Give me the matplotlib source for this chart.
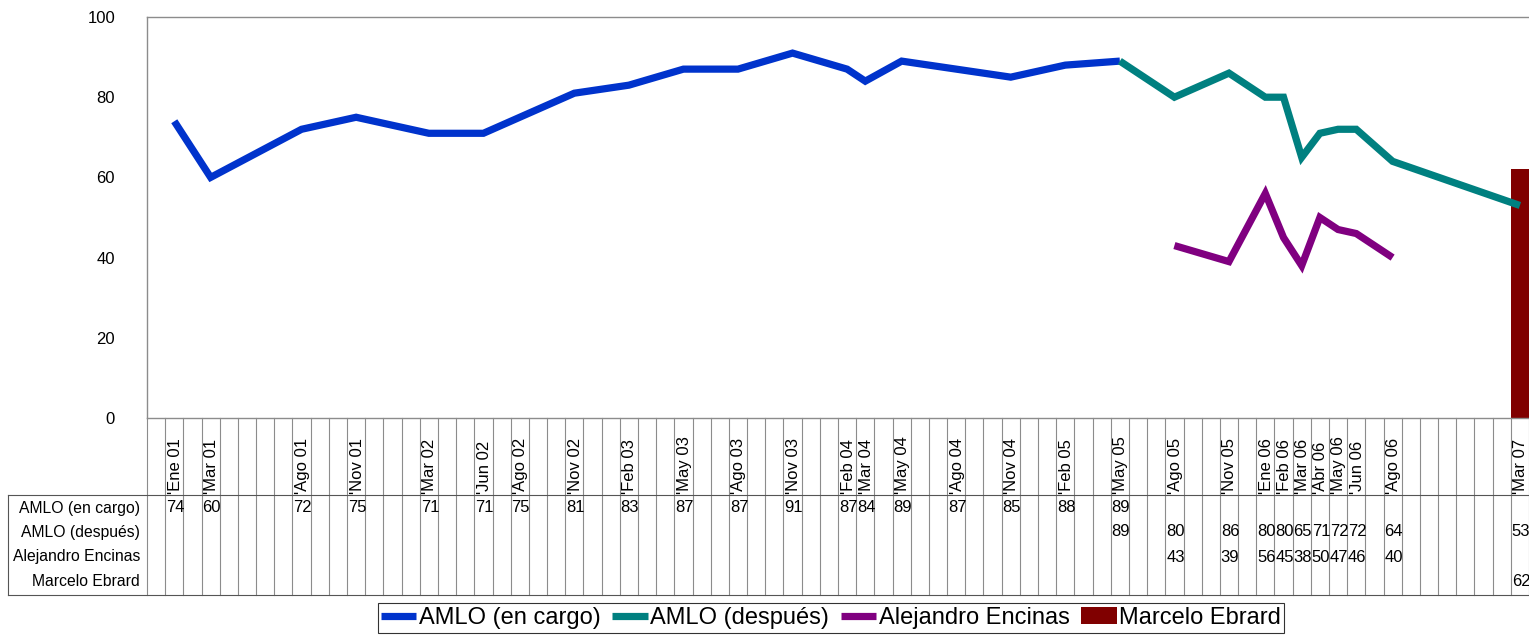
import numpy as np
import matplotlib
matplotlib.use("Agg")
import matplotlib.pyplot as plt
import matplotlib.transforms as mtransforms
from matplotlib.lines import Line2D

plt.rcParams['font.family'] = ['Liberation Sans', 'DejaVu Sans']

# Meses del eje (Dic 00 a Mar 07, una columna por mes)
nombres_mes = ["Ene", "Feb", "Mar", "Abr", "May", "Jun",
               "Jul", "Ago", "Sep", "Oct", "Nov", "Dic"]
meses = ["Dic 00"] + [f"{m} {a:02d}" for a in range(1, 8) for m in nombres_mes][:75]

# Series (mes, valor)
amlo_cargo_meses = ["Ene 01", "Mar 01", "Ago 01", "Nov 01", "Mar 02", "Jun 02", "Ago 02",
                    "Nov 02", "Feb 03", "May 03", "Ago 03", "Nov 03", "Feb 04", "Mar 04",
                    "May 04", "Ago 04", "Nov 04", "Feb 05", "May 05"]
amlo_cargo = [74, 60, 72, 75, 71, 71, 75, 81, 83, 87, 87, 91, 87, 84, 89, 87, 85, 88, 89]

amlo_despues_meses = ["May 05", "Ago 05", "Nov 05", "Ene 06", "Feb 06", "Mar 06",
                      "Abr 06", "May 06", "Jun 06", "Ago 06", "Mar 07"]
amlo_despues = [89, 80, 86, 80, 80, 65, 71, 72, 72, 64, 53]

encinas_meses = ["Ago 05", "Nov 05", "Ene 06", "Feb 06", "Mar 06", "Abr 06",
                 "May 06", "Jun 06", "Ago 06"]
encinas = [43, 39, 56, 45, 38, 50, 47, 46, 40]

ebrard_meses = ["Mar 07"]
ebrard = [62]

series = [
    ("AMLO (en cargo)", amlo_cargo_meses, amlo_cargo, "#0033CC", "line"),
    ("AMLO (después)", amlo_despues_meses, amlo_despues, "#008080", "line"),
    ("Alejandro Encinas", encinas_meses, encinas, "#800080", "line"),
    ("Marcelo Ebrard", ebrard_meses, ebrard, "#800000", "bar"),
]

W, H = 1529, 637
fig = plt.figure(figsize=(W / 100, H / 100), dpi=100)


def fx(x):
    return x / W


def fy(y):
    return 1 - y / H


ax_l, ax_r, ax_t, ax_b = 147, 1529, 17, 418
ax = fig.add_axes([fx(ax_l), fy(ax_b), fx(ax_r - ax_l), fy(ax_t) - fy(ax_b)])
idx = {m: i for i, m in enumerate(meses)}
grey = "#8c8c8c"
fs = 12

handles = []
for name, ms, vals, col, kind in series:
    xs = [idx[m] for m in ms]
    if kind == "line":
        h, = ax.plot(xs, vals, color=col, lw=5.2, solid_joinstyle="miter",
                     solid_capstyle="butt", label=name, zorder=2)
    else:
        h = ax.bar(xs, vals, width=1.0, color=col, label=name, zorder=1)
    handles.append(h)

ax.set_xlim(-0.5, len(meses) - 0.5)
ax.set_ylim(0, 100)
ax.set_yticks(range(0, 101, 20))
ax.tick_params(axis="y", length=0, pad=23, labelsize=fs)
ax.set_xticks([])
for s in ["right", "bottom"]:
    ax.spines[s].set_visible(False)
for s in ["left", "top"]:
    ax.spines[s].set_color(grey)
    ax.spines[s].set_linewidth(1)

# tabla de datos bajo el eje
trans = mtransforms.blended_transform_factory(ax.transData, fig.transFigure)
hdr_bot, tab_bot = 495, 595
for k in range(len(meses) + 1):
    b = k - 0.5
    fig.add_artist(Line2D([b, b], [fy(ax_b), fy(tab_bot)], transform=trans,
                          color=grey, lw=0.8))
fig.add_artist(Line2D([fx(ax_l), fx(ax_r)], [fy(ax_b), fy(ax_b)], color=grey, lw=1))
fig.add_artist(Line2D([fx(8), fx(ax_r)], [fy(hdr_bot), fy(hdr_bot)], color="#555555", lw=0.8))
fig.add_artist(Line2D([fx(8), fx(ax_r)], [fy(tab_bot), fy(tab_bot)], color="#555555", lw=0.8))
fig.add_artist(Line2D([fx(8), fx(8)], [fy(hdr_bot), fy(tab_bot)], color="#555555", lw=0.8))

usados = set()
for _, ms, _, _, _ in series:
    usados.update(ms)
for m in meses:
    if m in usados:
        fig.text(idx[m] + 0.05, fy(hdr_bot - 1), "'" + m, transform=trans, rotation=90,
                 ha="center", va="bottom", fontsize=fs)

row_y = [508, 532, 557, 582]
for (name, ms, vals, _, _), ry in zip(series, row_y):
    fig.text(fx(140), fy(ry), name, ha="right", va="center", fontsize=11.3)
    for m, v in zip(ms, vals):
        fig.text(idx[m] - 0.45, fy(ry), str(v), transform=trans,
                 ha="left", va="center", fontsize=fs)

leg = fig.legend(handles=handles, loc="center", bbox_to_anchor=(fx(831), fy(618)),
                 ncol=4, fontsize=17, frameon=True, fancybox=False, borderpad=0.15,
                 handlelength=1.5, handletextpad=0.1, columnspacing=0.5,
                 borderaxespad=0)
leg.get_frame().set_edgecolor("black")
leg.get_frame().set_linewidth(0.8)

fig.savefig("out.png", dpi=100)
